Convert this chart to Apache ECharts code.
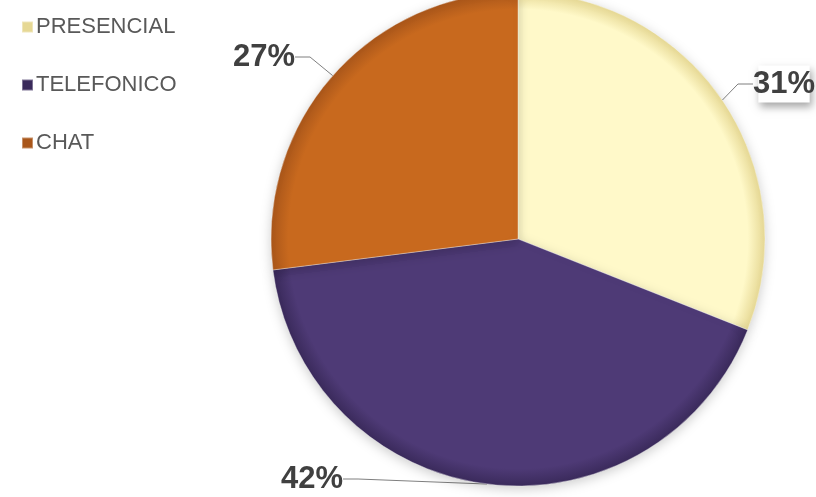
<!DOCTYPE html>
<html>
<head>
<meta charset="utf-8">
<script src="https://cdn.jsdelivr.net/npm/echarts@6/dist/echarts.min.js"></script>
<style>
  html, body { margin: 0; padding: 0; background: #fff; }
  #chart { width: 816px; height: 497px; }
</style>
</head>
<body>
<div id="chart"></div>
<script>
// datos del grafico
var categorias = ['PRESENCIAL', 'TELEFONICO', 'CHAT'];
var valores = [31, 42, 27];
var colores = ['#FFF9C9', '#4E3A76', '#C8691E'];
var bordes = ['#E6D894', '#3A2A5B', '#A9561A'];

// posicion de cada etiqueta (centro del texto)
var etiquetaPos = [
    { x: 784, y: 84 },
    { x: 312, y: 479 },
    { x: 264, y: 57 }
];

var cx = 518, cy = 239, r = 247;

var chart = echarts.init(document.getElementById('chart'));

var datos = [];
for (var i = 0; i < categorias.length; i++) {
    datos.push({
        name: categorias[i],
        value: valores[i],
        itemStyle: {
            color: {
                type: 'radial', x: cx, y: cy, r: r, global: true,
                colorStops: [
                    { offset: 0, color: colores[i] },
                    { offset: 0.93, color: colores[i] },
                    { offset: 1, color: bordes[i] }
                ]
            }
        },
        label: i == 0 ? {
            backgroundColor: '#fff',
            padding: [3, 3],
            shadowBlur: 8,
            shadowColor: 'rgba(0,0,0,0.35)',
            shadowOffsetX: 2,
            shadowOffsetY: 4
        } : {}
    });
}

var option = {
    animation: false,
    legend: {
        orient: 'vertical',
        left: 16,
        top: 11,
        itemGap: 36,
        itemWidth: 11,
        itemHeight: 11,
        icon: 'rect',
        textStyle: { fontFamily: 'Liberation Sans, Arial', fontSize: 22, color: '#595959', padding: [0, 0, 0, -2] },
        data: categorias
    },
    series: [{
        type: 'pie',
        center: [cx, cy],
        radius: r,
        startAngle: 90,
        clockwise: true,
        data: datos,
        itemStyle: {
            borderColor: 'rgba(255,255,255,0.35)',
            borderWidth: 1,
            shadowBlur: 12,
            shadowColor: 'rgba(0,0,0,0.2)',
            shadowOffsetY: 3
        },
        label: {
            show: true,
            formatter: '{c}%',
            overflow: 'none',
            fontFamily: 'Liberation Sans, Arial',
            fontWeight: 'bold',
            fontSize: 31,
            color: '#404040'
        },
        labelLine: {
            show: true,
            length: 15,
            length2: 15,
            lineStyle: { color: '#7f7f7f', width: 1 }
        },
        labelLayout: function (params) {
            var p = etiquetaPos[params.dataIndex];
            return { x: p.x, y: p.y, align: 'center', verticalAlign: 'middle' };
        }
    }]
};
chart.setOption(option);
</script>
</body>
</html>
